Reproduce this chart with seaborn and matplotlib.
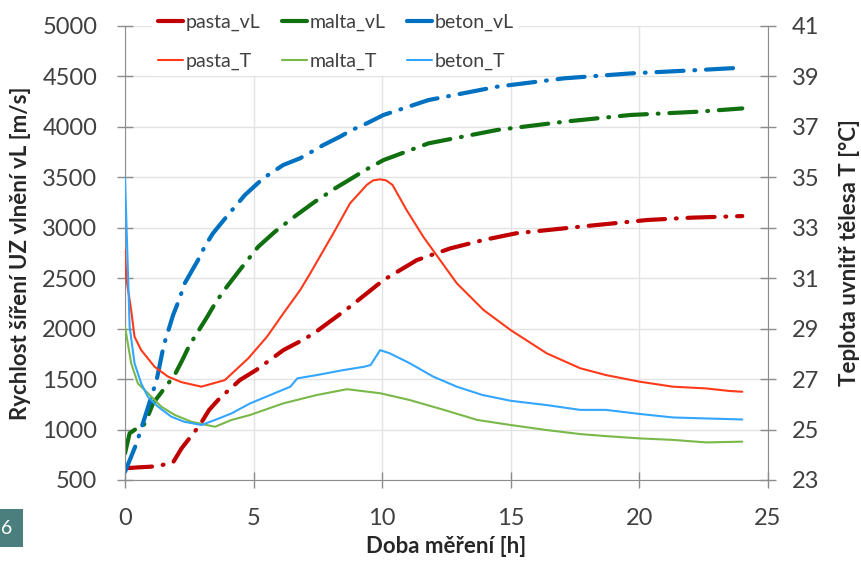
import seaborn as sns
import matplotlib
matplotlib.use("Agg")
import matplotlib.pyplot as plt
from matplotlib.lines import Line2D
from matplotlib.patches import Rectangle
import numpy as np

#### data
# velocity curves [m/s]
pasta_vL_t = [0, 0.5, 1.0, 1.29, 1.87, 2.2, 2.91, 3.27, 3.68, 4.47, 5.1, 5.9, 6.16, 7.0, 7.46, 8.75, 10.05,
              11.35, 12.65, 13.94, 15.2, 17.7, 20.3, 22.0, 24.0]
pasta_vL = [616, 625, 632, 639, 675, 814, 1045, 1194, 1310, 1491, 1590, 1739, 1788, 1900, 1975, 2218, 2482,
            2680, 2796, 2879, 2945, 3011, 3077, 3100, 3116]

malta_vL_t = [0, 0.18, 0.45, 0.7, 0.91, 1.09, 1.93, 2.23, 2.51, 3.16, 3.49, 3.81, 4.46, 4.79, 5.18, 5.83,
              6.28, 6.67, 7.38, 7.78, 8.17, 8.88, 9.34, 10.05, 11.8, 14.46, 17.06, 19.65, 22.25, 24.0]
malta_vL = [764, 963, 1010, 1028, 1144, 1260, 1541, 1689, 1838, 2102, 2244, 2366, 2581, 2687, 2812, 2961,
            3050, 3126, 3258, 3324, 3391, 3500, 3572, 3671, 3837, 3969, 4051, 4118, 4150, 4183]

beton_vL_t = [0, 0.45, 0.84, 1.23, 1.51, 1.87, 2.1, 2.32, 2.84, 3.1, 3.42, 4.0, 4.33, 4.66, 5.37, 5.76,
              6.15, 6.8, 7.26, 7.71, 8.36, 8.82, 9.4, 10.05, 11.8, 14.46, 17.06, 19.65, 22.25, 24.0]
beton_vL = [582, 864, 1177, 1491, 1838, 2135, 2284, 2449, 2680, 2815, 2945, 3126, 3225, 3324, 3490, 3556,
            3622, 3688, 3754, 3820, 3903, 3969, 4035, 4118, 4266, 4398, 4481, 4530, 4563, 4587]

# temperature curves [degC]
pasta_T_t = [0, 0.05, 0.24, 0.37, 0.63, 1.15, 1.67, 2.19, 2.97, 3.88, 4.79, 5.52, 6.16, 6.81, 7.2, 8.1,
             8.75, 9.4, 9.65, 9.92, 10.15, 10.4, 10.95, 11.6, 12.25, 12.9, 13.94, 15.0, 16.4, 17.7, 18.7,
             20.0, 21.3, 22.6, 23.5, 24.0]
pasta_T = [32.12, 31.0, 29.74, 28.68, 28.15, 27.49, 27.10, 26.88, 26.70, 26.96, 27.82, 28.68, 29.61,
           30.53, 31.19, 32.78, 33.97, 34.70, 34.88, 34.92, 34.88, 34.70, 33.70, 32.64, 31.72, 30.80,
           29.74, 28.94, 28.02, 27.43, 27.16, 26.90, 26.70, 26.63, 26.53, 26.50]

malta_T_t = [0, 0.24, 0.5, 0.89, 1.41, 1.93, 2.58, 3.5, 4.14, 4.87, 6.16, 7.46, 8.63, 9.92, 11.07, 12.4,
             13.7, 15.0, 16.4, 17.7, 18.7, 20.0, 21.3, 22.6, 24.0]
malta_T = [29.08, 27.63, 26.83, 26.44, 25.91, 25.58, 25.31, 25.11, 25.38, 25.58, 26.04, 26.37, 26.60,
           26.44, 26.17, 25.78, 25.38, 25.18, 24.98, 24.82, 24.74, 24.65, 24.59, 24.49, 24.52]

beton_T_t = [0, 0.18, 0.37, 0.63, 0.89, 1.28, 1.8, 2.3, 2.97, 3.5, 4.14, 4.87, 5.65, 6.43, 6.7, 7.46,
             8.5, 9.3, 9.55, 9.92, 10.3, 11.07, 11.98, 12.9, 13.9, 15.0, 16.4, 17.7, 18.7, 20.0, 21.3,
             22.6, 24.0]
beton_T = [35.0, 29.08, 27.63, 26.83, 26.30, 25.91, 25.51, 25.31, 25.18, 25.38, 25.64, 26.04, 26.37,
           26.70, 27.03, 27.16, 27.36, 27.49, 27.56, 28.15, 28.02, 27.63, 27.10, 26.70, 26.37, 26.14,
           25.97, 25.78, 25.78, 25.62, 25.48, 25.44, 25.40]

labels_vL = ["pasta_vL", "malta_vL", "beton_vL"]
labels_T = ["pasta_T", "malta_T", "beton_T"]
col_vL = ["#c00000", "#107010", "#0070c0"]
col_T = ["#ff3a1a", "#7ab84a", "#33a6ff"]
##################

sns.set_style("white")
plt.rcParams["font.family"] = ["Lato", "DejaVu Sans"]

fig = plt.figure(figsize=(8.61, 5.62), dpi=100)
ax = fig.add_axes([125 / 861, 82 / 562, 643 / 861, 454 / 562])
ax2 = ax.twinx()

dashdot = (0, (6.5, 2.6, 0.2, 2.6))

vL_data = [(pasta_vL_t, pasta_vL), (malta_vL_t, malta_vL), (beton_vL_t, beton_vL)]
for i, (t, v) in enumerate(vL_data):
	sns.lineplot(x=t, y=v, ax=ax, color=col_vL[i], linewidth=3.0, sort=False)
	ln = ax.get_lines()[-1]
	ln.set_linestyle(dashdot)
	ln.set_dash_capstyle("round")

T_data = [(pasta_T_t, pasta_T), (malta_T_t, malta_T), (beton_T_t, beton_T)]
for i, (t, v) in enumerate(T_data):
	sns.lineplot(x=t, y=v, ax=ax2, color=col_T[i], linewidth=1.5, sort=False)

ax.set_xlim(0, 25)
ax.set_ylim(500, 5000)
ax2.set_ylim(23, 41)
ax.set_xticks(range(0, 26, 5))
ax.set_yticks(range(500, 5001, 500))
ax2.set_yticks(range(23, 42, 2))

ax.grid(True, color="#e3e3e3", linewidth=1)
ax.set_axisbelow(True)

for a in (ax, ax2):
	for s in a.spines.values():
		s.set_color("#8c8c8c")
	a.spines["top"].set_visible(False)
ax.spines["right"].set_visible(False)
ax2.spines["left"].set_visible(False)
ax2.spines["bottom"].set_visible(False)

ax.tick_params(axis="y", direction="inout", length=12, width=1, color="#8c8c8c",
               labelsize=17, labelcolor="#404040", pad=14, left=True)
ax.tick_params(axis="x", direction="inout", length=12, width=1, color="#8c8c8c",
               labelsize=17, labelcolor="#404040", pad=14, bottom=True)
ax2.tick_params(axis="y", direction="inout", length=12, width=1, color="#8c8c8c",
                labelsize=17, labelcolor="#404040", pad=11, right=True)

ax.set_xlabel("Doba měření [h]", fontsize=16, fontweight="bold", labelpad=5)
ax.set_ylabel("Rychlost šíření UZ vlnění vL [m/s]", fontsize=16, fontweight="bold", labelpad=8)
ax2.set_ylabel("Teplota uvnitř tělesa T [°C]", fontsize=16, fontweight="bold", labelpad=14)

# legend, column-major order so the rows are vL / T
handles = []
labels = []
for i in range(3):
	handles.append(Line2D([], [], color=col_vL[i], linewidth=3.0))
	labels.append(labels_vL[i])
	handles.append(Line2D([], [], color=col_T[i], linewidth=1.5))
	labels.append(labels_T[i])
leg = fig.legend(handles, labels, ncol=3, loc="upper left", bbox_to_anchor=(152 / 861, 1 - 8 / 562),
                 fontsize=14, frameon=True, facecolor="white", edgecolor="none", framealpha=1,
                 handlelength=1.3, handletextpad=0.12, columnspacing=1.1, labelspacing=1.1,
                 borderaxespad=0, borderpad=0.3)
for tx in leg.get_texts():
	tx.set_color("#404040")

# small teal badge bottom left
fig.add_artist(Rectangle((0, 15 / 562), 23 / 861, 38 / 562, transform=fig.transFigure,
                         facecolor="#4b7f7d", edgecolor="none"))
fig.text(1 / 861, 34 / 562, "6", color="white", fontsize=14, va="center", ha="left")

fig.savefig("out.png", dpi=100)
